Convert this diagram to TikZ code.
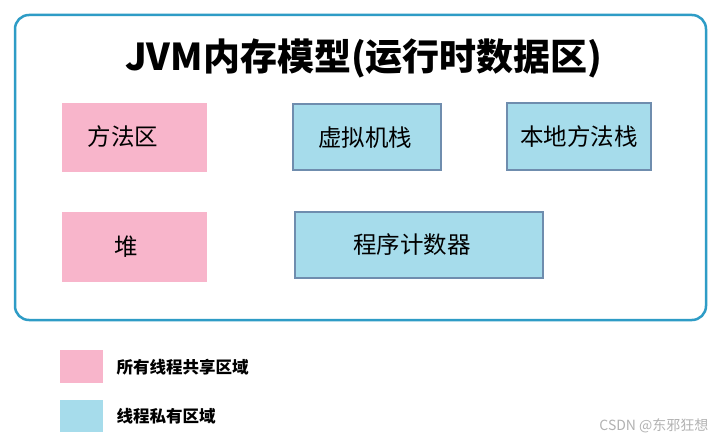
\documentclass[tikz,border=0pt]{standalone}
\usepackage{fontspec}
\newfontfamily\cjk{Noto Sans CJK SC}
\definecolor{pinkf}{HTML}{F8B5CB}
\definecolor{bluef}{HTML}{A6DCEB}
\definecolor{blueb}{HTML}{6F8DAE}
\definecolor{frame}{HTML}{2E9CC6}
\begin{document}
\begin{tikzpicture}[x=1pt,y=-1pt,
  shared/.style={fill=pinkf,draw=none},
  private/.style={fill=bluef,draw=blueb,line width=1.5pt},
  lbl/.style={font=\cjk\fontsize{23.5}{26}\selectfont},
  leg/.style={font=\cjk\bfseries\fontsize{16.5}{19}\selectfont,anchor=west}]
\useasboundingbox (0,0) rectangle (721,444);
\fill[white] (0,0) rectangle (721,444);
\draw[frame,line width=2.5pt,rounded corners=14pt] (15,15) rectangle (706,320);
\node[font=\cjk\bfseries\fontsize{37}{40}\selectfont] (title) at (364,58) {JVM内存模型(运行时数据区)};
\draw[shared] (62,103) rectangle (207,172);
\node[lbl] (ff) at (123,137) {方法区};
\draw[shared] (62,212) rectangle (207,282);
\node[lbl] (heap) at (126,247) {堆};
\draw[private] (293,104) rectangle (441,170);
\node[lbl] (vm) at (365,138) {虚拟机栈};
\draw[private] (507,103) rectangle (651,170);
\node[lbl] (nm) at (579,137) {本地方法栈};
\draw[private] (295,212) rectangle (543,278);
\node[lbl] (pc) at (412,245) {程序计数器};
\draw[shared] (60,350) rectangle (103,383);
\node[leg] (l1) at (113,367) {所有线程共享区域};
\draw[fill=bluef,draw=none] (60,400) rectangle (103,432);
\node[leg] (l2) at (113,416) {线程私有区域};
\node[font=\cjk\fontsize{14}{16}\selectfont,text=black!30,anchor=east] (wm) at (712,426) {CSDN @东邪狂想};
\end{tikzpicture}
\end{document}
